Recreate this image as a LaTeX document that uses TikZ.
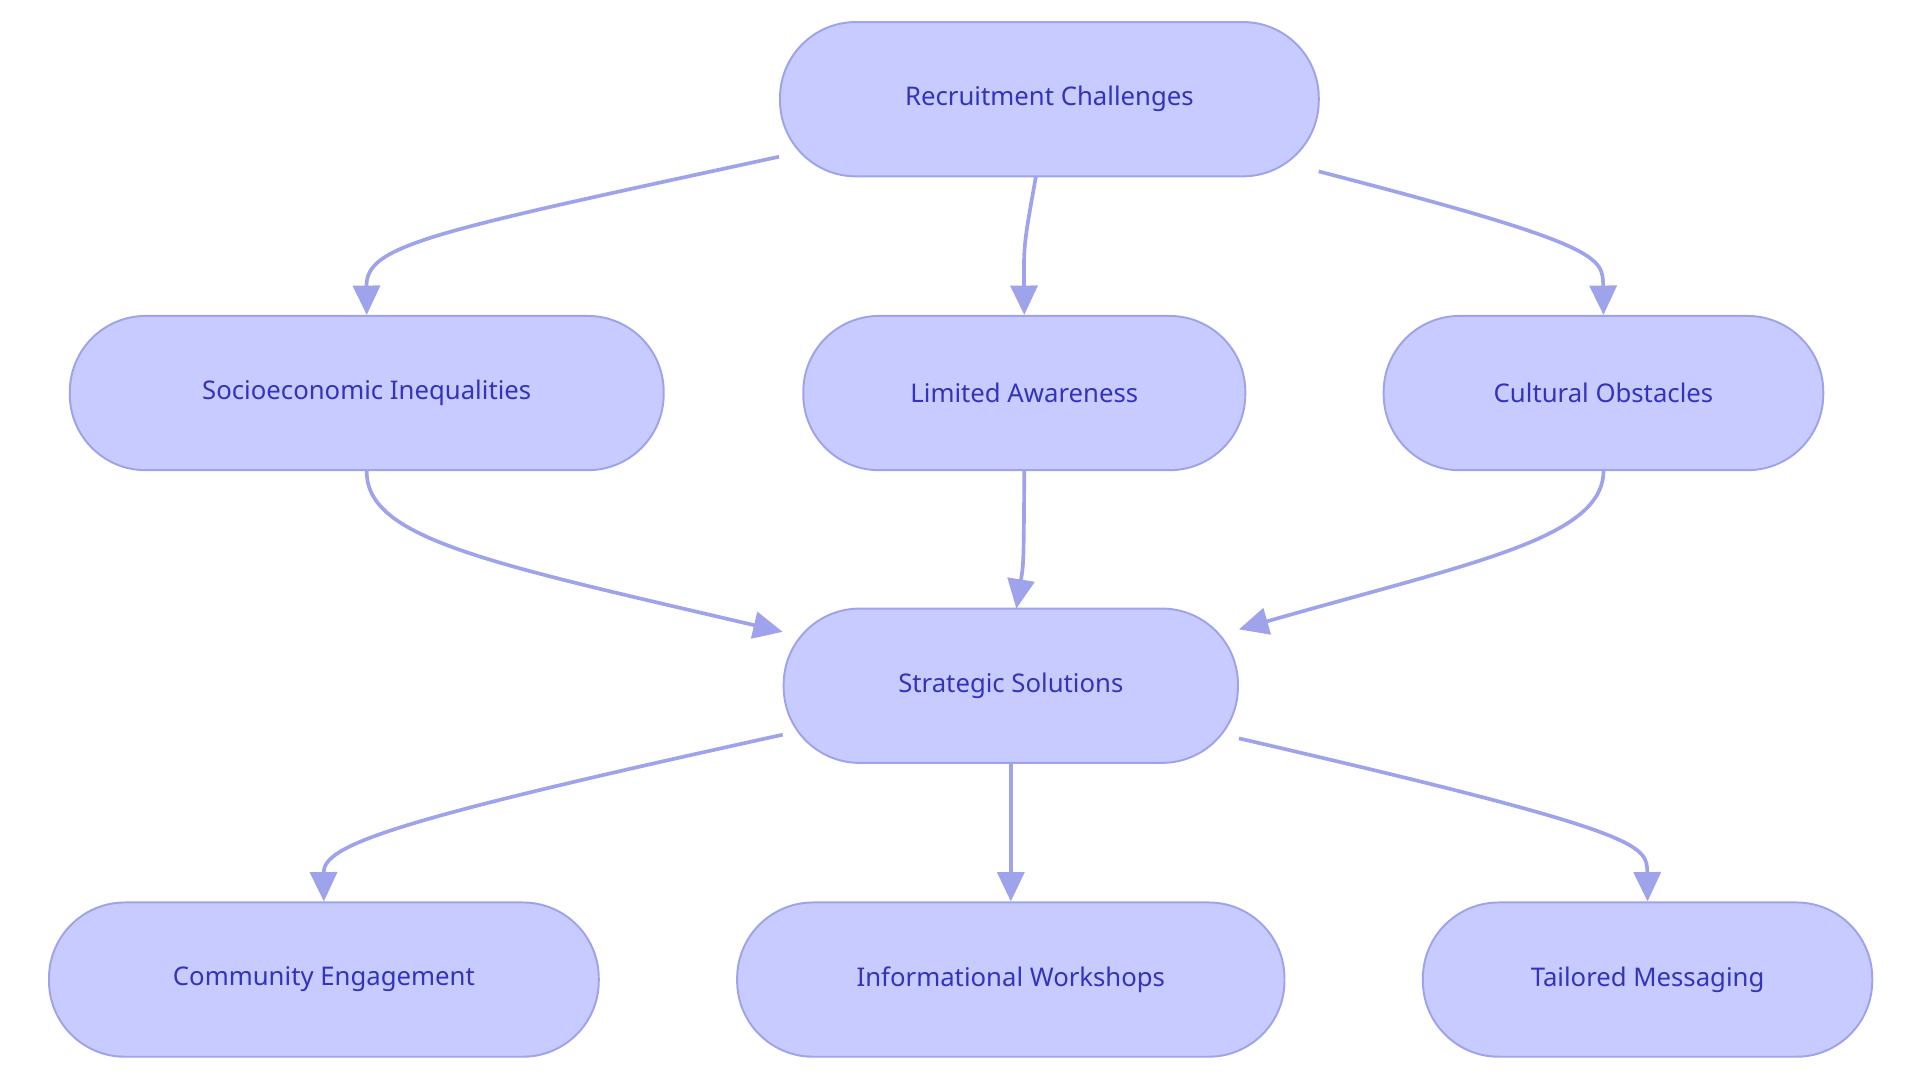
\documentclass[tikz,border=0pt]{standalone}
\usepackage{fontspec}
\setmainfont{Noto Sans}
\usetikzlibrary{arrows.meta}
\definecolor{fillc}{HTML}{C8CBFF}
\definecolor{linec}{HTML}{9FA3EC}
\definecolor{txtc}{HTML}{3333BB}
\begin{document}
\begin{tikzpicture}[x=0.5pt,y=-0.5pt,
  box/.style={draw=linec,fill=fillc,line width=0.8pt,rounded corners=31pt,minimum height=63pt,text=txtc,font=\fontsize{10.5}{12}\selectfont,inner sep=0pt},
  edge/.style={draw=linec,line width=1.5pt,-{Triangle[length=12pt,width=11pt]}}]
\useasboundingbox (0,0) rectangle (1568,884);
\node[box,minimum width=220pt] (rc) at (857,81) {Recruitment Challenges};
\node[box,minimum width=242.5pt] (si) at (299.5,321) {Socioeconomic Inequalities};
\node[box,minimum width=180.5pt] (la) at (836.5,321) {Limited Awareness};
\node[box,minimum width=179.5pt] (co) at (1309.5,321) {Cultural Obstacles};
\node[box,minimum width=185.5pt] (ss) at (825.5,560) {Strategic Solutions};
\node[box,minimum width=224.5pt] (ce) at (264.5,800) {Community Engagement};
\node[box,minimum width=223.5pt] (iw) at (825.5,800) {Informational Workshops};
\node[box,minimum width=183.5pt] (tm) at (1345.5,800) {Tailored Messaging};
\path[edge] ([xshift=0pt]rc.west |- 0,128) .. controls (350,190) and (299,200) .. (si.north);
\path[edge] (846,144) .. controls (836,200) .. (la.north);
\path[edge] (1077,140) .. controls (1309,200) and (1309,210) .. (co.north);
\path[edge] (si.south) .. controls (299,440) and (400,460) .. (ss.west |- 0,516);
\path[edge] (la.south) .. controls (836,460) .. (830,497);
\path[edge] (co.south) .. controls (1309,440) and (1200,460) .. (ss.east |- 0,514);
\path[edge] (ss.west |- 0,600) .. controls (320,670) and (264,690) .. (ce.north);
\path[edge] (ss.south) -- (iw.north);
\path[edge] (ss.east |- 0,603) .. controls (1345,680) and (1345,690) .. (tm.north);
\end{tikzpicture}
\end{document}
